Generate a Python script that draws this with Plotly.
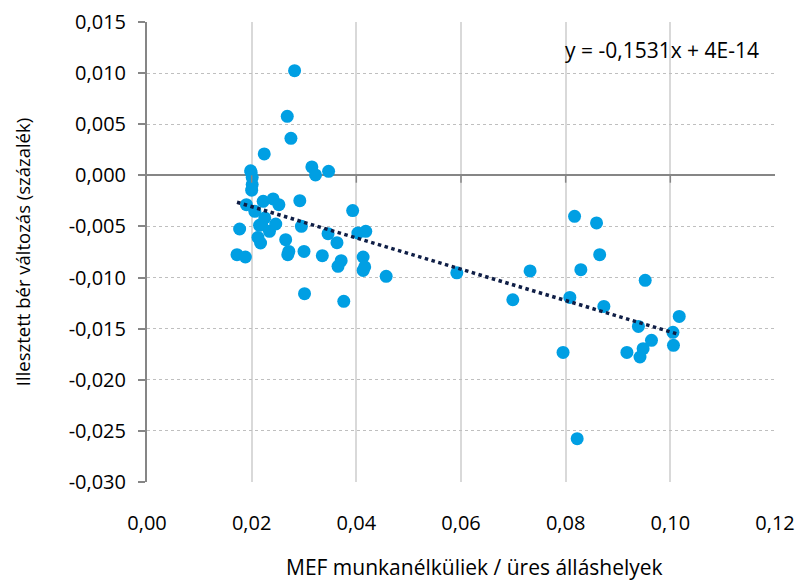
import plotly.graph_objects as go

# ratio of unemployed (MEF) to vacancies
x_vals = [
    0.0282, 0.0268, 0.0275, 0.0224, 0.0315, 0.0322, 0.0347,
    0.0199, 0.0201, 0.0201, 0.0200, 0.0198,
    0.0190, 0.0206, 0.0222, 0.0241, 0.0252, 0.0292,
    0.0225, 0.0215, 0.0219, 0.0234, 0.0246, 0.0177, 0.0295,
    0.0212, 0.0217, 0.0265, 0.0172, 0.0188, 0.0271, 0.0269,
    0.0300, 0.0335, 0.0346, 0.0363, 0.0371, 0.0365, 0.0393,
    0.0403, 0.0418, 0.0413, 0.0416, 0.0413, 0.0457, 0.0301, 0.0376,
    0.0592, 0.0732, 0.0699,
    0.0817, 0.0859, 0.0865, 0.0829, 0.0952, 0.0808, 0.0873, 0.1017,
    0.0939, 0.1005, 0.0964, 0.0948, 0.0942, 0.0917, 0.1006, 0.0795, 0.0822,
]
# fitted wage change (percent)
y_vals = [
    0.01024, 0.00577, 0.00362, 0.00209, 0.00082, 0.00004, 0.00039,
    0.00030, -0.00020, -0.00090, -0.00145, 0.00045,
    -0.00287, -0.00352, -0.00254, -0.00231, -0.00287, -0.00248,
    -0.00417, -0.00489, -0.00482, -0.00548, -0.00476, -0.00525, -0.00499,
    -0.00607, -0.00662, -0.00629, -0.00776, -0.00799, -0.00744, -0.00776,
    -0.00744, -0.00786, -0.00571, -0.00659, -0.00835, -0.00890, -0.00345,
    -0.00564, -0.00548, -0.00799, -0.00896, -0.00930, -0.00988, -0.01158, -0.01233,
    -0.00954, -0.00935, -0.01217,
    -0.00401, -0.00466, -0.00776, -0.00923, -0.01027, -0.01194, -0.01282, -0.01380,
    -0.01478, -0.01536, -0.01614, -0.01696, -0.01777, -0.01732, -0.01663, -0.01732, -0.02576,
]

slope = -0.1531
intercept = 4e-14
trend_label = "y = -0,1531x + 4E-14"

x_ticks = [0.00, 0.02, 0.04, 0.06, 0.08, 0.10, 0.12]
x_tick_labels = ["0,00", "0,02", "0,04", "0,06", "0,08", "0,10", "0,12"]
y_ticks = [0.015, 0.010, 0.005, 0.000, -0.005, -0.010, -0.015, -0.020, -0.025, -0.030]
y_tick_labels = ["0,015", "0,010", "0,005", "0,000", "-0,005", "-0,010",
                 "-0,015", "-0,020", "-0,025", "-0,030"]

x_title = "MEF munkanélküliek / üres álláshelyek"
y_title = "Illesztett bér változás (százalék)"

font_family = "Open Sans, Liberation Sans, sans-serif"
y_min, y_max = -0.030, 0.015

fig = go.Figure()

fig.add_trace(go.Scatter(
    x=x_vals, y=y_vals, mode="markers",
    marker=dict(size=13, color="#009FE3", line=dict(width=0)),
    showlegend=False, hoverinfo="x+y",
))

x_lo, x_hi = min(x_vals), max(x_vals)
fig.add_trace(go.Scatter(
    x=[x_lo, x_hi], y=[slope * x_lo + intercept, slope * x_hi + intercept],
    mode="lines", line=dict(color="#0F1E46", width=3.5, dash="dot"),
    showlegend=False, hoverinfo="skip",
))

# small tick marks hanging below the horizontal axis line at y=0
zero_frac = (0 - y_min) / (y_max - y_min)
for xt in x_ticks[1:-1]:
    fig.add_shape(type="line", x0=xt, x1=xt, xref="x", yref="paper",
                  y0=zero_frac - 0.016, y1=zero_frac,
                  line=dict(color="#868686", width=1.5))

fig.add_annotation(
    x=0.0984, y=0.0123, xref="x", yref="y", text=trend_label, showarrow=False,
    font=dict(family=font_family, size=21, color="#000000"), xanchor="center", yanchor="middle",
)

# x-axis title (placed slightly right of the plot centre, as in the source)
fig.add_annotation(
    x=0.521, y=-0.185, xref="paper", yref="paper", text=x_title, showarrow=False,
    font=dict(family=font_family, size=21, color="#000000"), xanchor="center", yanchor="middle",
)

fig.update_layout(
    width=796, height=581,
    margin=dict(l=147, r=21, t=22, b=99, autoexpand=False),
    paper_bgcolor="white", plot_bgcolor="white",
    font=dict(family=font_family, size=20, color="#000000"),
    xaxis=dict(
        range=[0, 0.12], tickvals=x_ticks, ticktext=x_tick_labels,
        showgrid=True, gridcolor="#D9D9D9", gridwidth=1.5,
        zeroline=False, showline=False, ticks="", automargin=False,
        ticklabelstandoff=27,
        tickfont=dict(size=20),
    ),
    yaxis=dict(
        range=[y_min, y_max], tickvals=y_ticks, ticktext=y_tick_labels,
        showgrid=True, gridcolor="#BFBFBF", gridwidth=1, griddash="dot",
        zeroline=True, zerolinecolor="#868686", zerolinewidth=2,
        showline=True, linecolor="#868686", linewidth=2,
        ticks="outside", ticklen=7, tickcolor="#868686", tickwidth=1.5,
        ticklabelstandoff=8, automargin=False,
        title=dict(text=y_title, standoff=33, font=dict(size=18.5)),
        tickfont=dict(size=20),
    ),
)

fig.write_html(
    "out.html",
    config={"displayModeBar": False},
    post_script="document.body.style.margin='0';document.body.style.overflow='hidden';",
)
